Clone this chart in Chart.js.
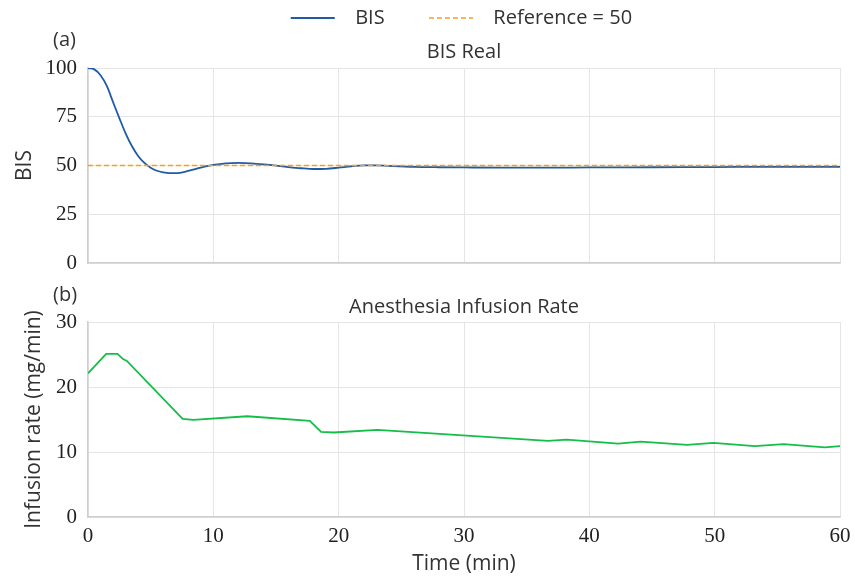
<!DOCTYPE html>
<html>
<head>
<meta charset="utf-8">
<script src="https://cdn.jsdelivr.net/npm/chart.js@4.4.1/dist/chart.umd.min.js"></script>
<style>
  body { margin: 0; background: #fff; }
  #wrap { position: relative; width: 855px; height: 577px; }
  canvas { position: absolute; left: 0; }
  #top { top: 0; }
  #bot { top: 280px; }
  .tag { position: absolute; font-family: 'Open Sans', sans-serif; font-size: 20px; color: #333; line-height: 1; }
</style>
</head>
<body>
<div id="wrap">
  <canvas id="top" width="855" height="280"></canvas>
  <canvas id="bot" width="855" height="297"></canvas>
  <div class="tag" style="left:53px;top:29px">(a)</div>
  <div class="tag" style="left:53px;top:284px">(b)</div>
</div>
<script>
// BIS response
const bisTime = [0, 0.5, 1, 1.5, 2, 2.5, 3, 3.5, 4, 4.5, 5, 5.5, 6, 6.5, 7, 8, 9, 10, 11, 12, 13, 14, 15, 16, 17, 18, 19, 20, 21, 22, 23, 24, 26, 28, 30, 33, 36, 40, 45, 50, 55, 60];
const bisValues = [100, 99.3, 96.3, 90.8, 82.5, 74.3, 66.5, 60, 54.9, 51.3, 48.9, 47.3, 46.5, 46.1, 46.1, 47.2, 48.9, 50.3, 51.1, 51.3, 51.1, 50.6, 49.9, 49.2, 48.6, 48.2, 48.3, 48.9, 49.6, 50.1, 50.1, 49.8, 49.3, 49.1, 49, 48.9, 48.9, 49, 49.1, 49.2, 49.3, 49.3];
const refTime = [0, 60];
const refValues = [50, 50];

// infusion rate
const rateTime = [0, 1.45, 2.35, 2.8, 3.1, 7.55, 8.4, 12.7, 17.7, 18.6, 19.6, 23.1, 36.7, 38.2, 42.3, 44.1, 47.8, 49.9, 53.2, 55.5, 58.8, 60];
const rateValues = [22.1, 25.1, 25.1, 24.3, 24.0, 15.1, 14.95, 15.5, 14.8, 13.1, 13.0, 13.4, 11.7, 11.9, 11.3, 11.6, 11.1, 11.4, 10.9, 11.2, 10.7, 10.9];

const xTicks = [0, 10, 20, 30, 40, 50, 60];
const bisTicks = [0, 25, 50, 75, 100];
const rateTicks = [0, 10, 20, 30];

const pts = (xs, ys) => xs.map((x, i) => ({ x, y: ys[i] }));

Chart.defaults.font.family = "'Open Sans', sans-serif";
Chart.defaults.color = '#333';

const GRID = '#e5e5e5';
const tickFont = { family: "'Liberation Serif', serif", size: 21 };
const sansFont = { family: "'Open Sans', sans-serif", size: 20, weight: 'normal' };

const xScale = (showTicks, h) => ({
  type: 'linear', min: 0, max: 60,
  afterBuildTicks: s => { s.ticks = xTicks.map(v => ({ value: v })); },
  afterFit: s => { s.height = h; s.paddingLeft = 0; s.paddingRight = 0; },
  grid: { color: GRID, drawTicks: false },
  border: { color: '#cfcfcf', width: 1.5 },
  ticks: { display: showTicks, font: tickFont, color: '#222', padding: 7, maxRotation: 0 }
});

const yScale = (ticks, title, tpad) => ({
  type: 'linear', min: ticks[0], max: ticks[ticks.length - 1],
  afterBuildTicks: s => { s.ticks = ticks.map(v => ({ value: v })); },
  afterFit: s => { s.width = 88; s.paddingTop = 0; s.paddingBottom = 0; },
  grid: { color: GRID, drawTicks: false },
  border: { color: '#cfcfcf', width: 1.5 },
  ticks: { font: tickFont, color: '#222', padding: 11 },
  title: { display: true, text: title, font: { ...sansFont, size: 21 }, color: '#333', padding: { top: tpad, bottom: 0 } }
});

// extra spaces only to spread the legend entries like the original
const legendPad = ['  ', '       ', '  ', ' '];

new Chart(document.getElementById('top'), {
  type: 'line',
  data: {
    datasets: [
      { label: 'BIS', data: pts(bisTime, bisValues), borderColor: '#1f5ba8', borderWidth: 1.8, pointRadius: 0, cubicInterpolationMode: 'monotone', order: 1 },
      { label: 'Reference = 50', data: pts(refTime, refValues), borderColor: '#f5a01a', borderWidth: 1.6, borderDash: [5, 3], pointRadius: 0, order: 0 }
    ]
  },
  options: {
    responsive: false, animation: false,
    layout: { padding: { left: 0, right: 15, top: 0, bottom: 0 } },
    plugins: {
      legend: {
        fullSize: false, weight: 3000,
        labels: {
          usePointStyle: true, pointStyle: 'line', pointStyleWidth: 44, boxHeight: 20,
          font: sansFont, color: '#333', padding: 8,
          sort: (a, b) => a.datasetIndex - b.datasetIndex,
          generateLabels: ch => Chart.defaults.plugins.legend.labels.generateLabels(ch).map(l => {
            const ds = ch.data.datasets[l.datasetIndex];
            const i = l.datasetIndex * 2;
            return { ...l, text: legendPad[i] + l.text + legendPad[i + 1], lineDash: ds.borderDash || [], lineWidth: ds.borderWidth, strokeStyle: ds.borderColor };
          })
        }
      },
      title: { display: true, fullSize: false, text: 'BIS Real', font: sansFont, color: '#333', padding: { top: 2, bottom: 4 } },
      tooltip: { enabled: false }
    },
    scales: { x: xScale(false, 17), y: yScale(bisTicks, 'BIS', 12) }
  }
});

new Chart(document.getElementById('bot'), {
  type: 'line',
  data: {
    datasets: [
      { label: 'Infusion rate', data: pts(rateTime, rateValues), borderColor: '#14be48', borderWidth: 1.8, pointRadius: 0, tension: 0 }
    ]
  },
  options: {
    responsive: false, animation: false,
    layout: { padding: { left: 0, right: 15, top: 0, bottom: 0 } },
    plugins: {
      legend: { display: false },
      title: { display: true, fullSize: false, text: 'Anesthesia Infusion Rate', font: sansFont, color: '#333', padding: { top: 15, bottom: 3 } },
      tooltip: { enabled: false }
    },
    scales: {
      x: { ...xScale(true, 60), title: { display: true, text: 'Time (min)', font: { ...sansFont, size: 21 }, color: '#333', padding: { top: 0, bottom: 0 } } },
      y: yScale(rateTicks, 'Infusion rate (mg/min)', 21)
    }
  }
});
</script>
</body>
</html>
